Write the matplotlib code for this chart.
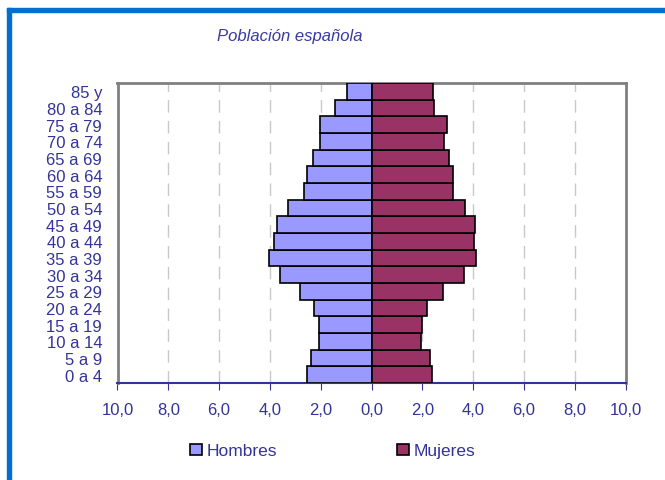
import matplotlib
matplotlib.use("Agg")
import matplotlib.pyplot as plt
from matplotlib.patches import Rectangle
import numpy as np

plt.rcParams['font.family'] = ['Liberation Sans', 'DejaVu Sans']

groups = ["0 a 4", "5 a 9", "10 a 14", "15 a 19", "20 a 24", "25 a 29", "30 a 34",
          "35 a 39", "40 a 44", "45 a 49", "50 a 54", "55 a 59", "60 a 64",
          "65 a 69", "70 a 74", "75 a 79", "80 a 84", "85 y"]
hombres = [2.53, 2.39, 2.05, 2.06, 2.26, 2.82, 3.62, 4.02, 3.83, 3.71, 3.27,
           2.64, 2.53, 2.32, 2.03, 2.01, 1.42, 0.97]
mujeres = [2.40, 2.30, 1.96, 1.97, 2.20, 2.83, 3.66, 4.12, 4.02, 4.06, 3.70,
           3.19, 3.22, 3.04, 2.85, 2.99, 2.47, 2.41]
xticks = [-10, -8, -6, -4, -2, 0, 2, 4, 6, 8, 10]
xticklabels = ["10,0", "8,0", "6,0", "4,0", "2,0", "0,0", "2,0", "4,0", "6,0", "8,0", "10,0"]

W, H = 665, 481
fig = plt.figure(figsize=(W / 100, H / 100), dpi=100)
L, R, T, B = 117.5, 625.5, 84, 384
ax = fig.add_axes([L / W, 1 - B / H, (R - L) / W, (B - T) / H])

txt = '#333399'
y = np.arange(len(groups))
ax.barh(y, -np.array(hombres), height=1.0, color='#9999FF', edgecolor='black',
        linewidth=1.2, label='Hombres', zorder=3)
ax.barh(y, mujeres, height=1.0, color='#993366', edgecolor='black',
        linewidth=1.2, label='Mujeres', zorder=3)

ax.set_xlim(-10, 10)
ax.set_ylim(-0.5, len(groups) - 0.5)
ax.set_yticks(y)
ax.set_yticklabels(groups, fontsize=12, color=txt)
ax.tick_params(axis='y', length=0, pad=11)
ax.set_xticks(xticks)
ax.set_xticklabels(xticklabels, fontsize=12, color=txt)
ax.tick_params(axis='x', direction='out', length=5, color=txt, pad=9)

for xv in xticks[1:-1]:
    ax.axvline(xv, color='#C8C8C8', linestyle=(0, (9, 6)), linewidth=1.0, zorder=1)

for s in ['top', 'right', 'left']:
    ax.spines[s].set_color('#808080')
    ax.spines[s].set_linewidth(2)
ax.spines['bottom'].set_color(txt)
ax.spines['bottom'].set_linewidth(1.5)

fig.text(290 / W, 1 - 37 / H, "Población española", fontsize=12, style='italic',
         color='#3A3AA0', ha='center', va='center')

leg = fig.legend(loc='center', bbox_to_anchor=(333 / W, 1 - 452 / H), ncol=2,
                 frameon=False, fontsize=12.5, labelcolor=txt, handlelength=0.65,
                 handleheight=0.65, handletextpad=0.3, columnspacing=6.9)

blue = '#0070D0'
fig.patches.append(Rectangle((7 / W, 1 - 12.5 / H), 1 - 7 / W, 3.5 / H,
                             transform=fig.transFigure, color=blue, zorder=10))
fig.patches.append(Rectangle((7 / W, 0), 4 / W, 1 - 9 / H,
                             transform=fig.transFigure, color=blue, zorder=10))

fig.savefig("out.png", dpi=100)
